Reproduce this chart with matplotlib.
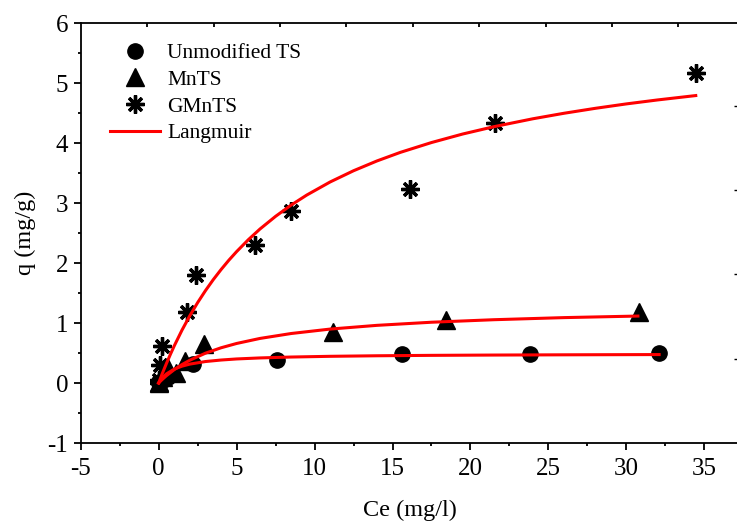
import matplotlib
matplotlib.use("Agg")
import matplotlib.pyplot as plt
from matplotlib.ticker import MultipleLocator, NullFormatter

plt.rcParams['font.family'] = ['Liberation Serif', 'DejaVu Serif']
plt.rcParams['axes.unicode_minus'] = False

# measured points
ce_unmod = [0, 0.1, 0.3, 0.6, 2.2, 7.6, 15.6, 23.8, 32.1]
q_unmod = [0, 0.02, 0.05, 0.1, 0.31, 0.38, 0.48, 0.48, 0.5]

ce_mn = [0, 0.05, 0.3, 0.6, 1.1, 1.7, 2.9, 11.2, 18.4, 30.8]
q_mn = [0, 0.02, 0.1, 0.25, 0.17, 0.37, 0.65, 0.85, 1.05, 1.19]

ce_gmn = [0, 0.05, 0.1, 0.2, 1.8, 2.4, 6.2, 8.5, 16.15, 21.55, 34.45]
q_gmn = [0, 0.05, 0.3, 0.62, 1.18, 1.8, 2.3, 2.87, 3.23, 4.33, 5.17]

# Langmuir fit curves
fit_ce_unmod = [0, 0.1, 0.25, 0.5, 1, 1.5, 2, 3, 4, 5, 6.5, 8.5, 11, 14, 17.5, 21.5, 26, 32.1]
fit_q_unmod = [0, 0.04, 0.09, 0.152, 0.232, 0.281, 0.315, 0.358, 0.383, 0.401, 0.418,
               0.433, 0.445, 0.454, 0.461, 0.466, 0.470, 0.474]

fit_ce_mn = [0, 0.1, 0.25, 0.5, 1, 1.5, 2, 3, 4, 5, 6.5, 8.5, 11, 14, 17.5, 21.5, 26, 30.74]
fit_q_mn = [0, 0.027, 0.064, 0.122, 0.223, 0.308, 0.380, 0.497, 0.587, 0.659, 0.743,
            0.825, 0.899, 0.961, 1.013, 1.055, 1.090, 1.116]

fit_ce_gmn = [0, 0.1, 0.25, 0.5, 0.75, 1, 1.5, 2, 2.5, 3, 3.5, 4, 4.5, 5, 5.75, 6.5, 7.5,
              8.5, 9.5, 11, 12.5, 14, 15.5, 17.5, 19.5, 21.5, 24, 26, 28, 30, 32, 34.45]
fit_q_gmn = [0, 0.068, 0.168, 0.326, 0.476, 0.619, 0.883, 1.122, 1.340, 1.539, 1.722,
             1.890, 2.046, 2.190, 2.388, 2.567, 2.778, 2.966, 3.133, 3.351, 3.538, 3.701,
             3.844, 4.008, 4.150, 4.272, 4.404, 4.496, 4.578, 4.652, 4.718, 4.791]

fig = plt.figure(figsize=(7.37, 5.21), dpi=100)
ax = fig.add_axes([0.1095, 0.1497, 0.8925, 0.8061])

ax.plot(ce_unmod, q_unmod, 'o', color='black', ms=11, ls='none', label='Unmodified TS')
ax.plot(ce_mn, q_mn, '^', color='black', ms=13, ls='none', label='MnTS')
ax.plot(ce_gmn, q_gmn, ls='none', marker=(8, 2, 0), color='black', ms=13, mew=2.4,
        label='GMnTS')
ax.plot(fit_ce_unmod, fit_q_unmod, color='red', lw=2.2, label='Langmuir')
ax.plot(fit_ce_mn, fit_q_mn, color='red', lw=2.2)
ax.plot(fit_ce_gmn, fit_q_gmn, color='red', lw=2.2)

ax.set_xlim(-5, 37.19)
ax.set_ylim(-1, 6)
ax.xaxis.set_major_locator(MultipleLocator(5))
ax.xaxis.set_minor_locator(MultipleLocator(2.5))
ax.yaxis.set_major_locator(MultipleLocator(1))
ax.yaxis.set_minor_locator(MultipleLocator(0.5))
ax.tick_params(which='major', direction='out', length=5, width=1.3, labelsize=18, pad=4)
ax.tick_params(which='minor', direction='out', length=2.5, width=1.3)
ax.tick_params(axis='x', which='major', pad=6)
ax.spines['right'].set_visible(False)
for s in ['left', 'bottom', 'top']:
    ax.spines[s].set_linewidth(1.3)

ax.set_xlabel('Ce (mg/l)', fontsize=17.5)
ax.set_ylabel('q (mg/g)', fontsize=17.5)
ax.xaxis.set_label_coords(0.5, -0.135)
ax.yaxis.set_label_coords(-0.068, 0.5)

leg = ax.legend(loc='upper left', bbox_to_anchor=(0.032, 0.972), frameon=False,
                fontsize=15.5, handlelength=2.3, handletextpad=0.33, labelspacing=0.3,
                borderaxespad=0)

# overlay frame ticks along top and right edge
ax2 = fig.add_axes(ax.get_position(), frameon=False)
ax2.patch.set_visible(False)
ax2.set_xlim(0, 9.906)
ax2.set_ylim(0, 4.98)
ax2.set_xticks([1, 2, 3, 4, 5, 6, 7, 8, 9])
ax2.set_yticks([1, 2, 3, 4])
ax2.xaxis.tick_top()
ax2.yaxis.tick_right()
ax2.xaxis.set_major_formatter(NullFormatter())
ax2.yaxis.set_major_formatter(NullFormatter())
ax2.tick_params(axis='x', direction='in', length=3, width=1.3)
ax2.tick_params(axis='y', direction='in', length=3, width=1)

fig.savefig('out.png', dpi=100)
